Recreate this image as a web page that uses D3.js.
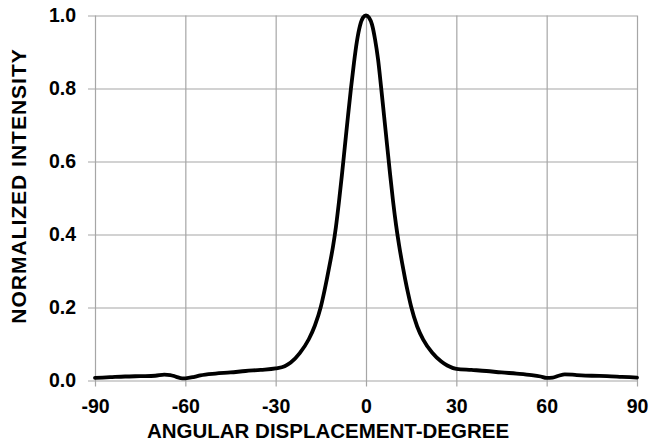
<!DOCTYPE html>
<html>
<head>
<meta charset="utf-8">
<script src="https://cdn.jsdelivr.net/npm/d3@7"></script>
<style>
  html, body { margin: 0; padding: 0; background: #fff; }
  svg { display: block; font-family: "Liberation Sans", Arial, sans-serif; }
</style>
</head>
<body>
<svg id="chart" width="652" height="445"></svg>
<script>
const angles = [-90, -85, -80, -75, -70, -67, -65, -63, -61, -60, -57, -55, -50, -45, -40, -35, -30, -27, -25, -22, -19, -17, -15, -14, -13, -12, -11, -10, -9, -8, -7, -6, -5, -4, -3, -2, -1, 0, 1, 2, 3, 4, 5, 6, 7, 8, 9, 10, 11, 12, 13, 14, 15, 17, 19, 22, 25, 27, 30, 35, 40, 45, 50, 55, 58, 60, 62, 64, 66, 70, 75, 80, 85, 90];
const intensity = [0.007, 0.009, 0.011, 0.012, 0.013, 0.016, 0.015, 0.010, 0.006, 0.006, 0.010, 0.014, 0.019, 0.022, 0.026, 0.029, 0.033, 0.039, 0.049, 0.075, 0.113, 0.150, 0.202, 0.238, 0.278, 0.320, 0.365, 0.420, 0.488, 0.563, 0.643, 0.723, 0.800, 0.870, 0.930, 0.972, 0.994, 1.000, 0.994, 0.975, 0.935, 0.880, 0.805, 0.725, 0.645, 0.565, 0.490, 0.425, 0.370, 0.322, 0.278, 0.238, 0.202, 0.148, 0.112, 0.076, 0.052, 0.041, 0.032, 0.029, 0.026, 0.022, 0.019, 0.015, 0.011, 0.007, 0.008, 0.013, 0.017, 0.015, 0.013, 0.012, 0.010, 0.008];
const xTicks = [-90, -60, -30, 0, 30, 60, 90];
const yTicks = [0, 0.2, 0.4, 0.6, 0.8, 1.0];
const xTitle = "ANGULAR DISPLACEMENT-DEGREE";
const yTitle = "NORMALIZED INTENSITY";

const svg = d3.select("#chart");
const x = d3.scaleLinear().domain([-90, 90]).range([95, 637]);
const y = d3.scaleLinear().domain([0, 1]).range([380.5, 15.5]);
const gridColor = "#a6a6a6";

// Horizontal gridlines (with outward tick)
const yAxis = d3.axisLeft(y).tickValues(yTicks).tickFormat(d3.format(".1f"))
  .tickSize(-(637 - 95));
const gy = svg.append("g").attr("transform", "translate(95,0)").call(yAxis);
gy.select(".domain").remove();
gy.selectAll(".tick line").attr("x1", -7).attr("stroke", gridColor).attr("stroke-width", 1.2);
gy.selectAll(".tick text").attr("x", -19).attr("font-size", 19.5).attr("font-weight", "bold").attr("fill", "#000");

// Vertical gridlines (with outward tick)
const xAxis = d3.axisBottom(x).tickValues(xTicks).tickFormat(d => String(d))
  .tickSize(-(380.5 - 15.5));
const gx = svg.append("g").attr("transform", "translate(0,380.5)").call(xAxis);
gx.select(".domain").remove();
gx.selectAll(".tick line").attr("y1", 6).attr("stroke", gridColor).attr("stroke-width", 1.2);
gx.selectAll(".tick text").attr("y", 19).attr("font-size", 19.5).attr("font-weight", "bold").attr("fill", "#000");

// Data line
const line = d3.line().x((d, i) => x(angles[i])).y(d => y(d)).curve(d3.curveMonotoneX);
svg.append("path").datum(intensity)
  .attr("d", line)
  .attr("fill", "none").attr("stroke", "#000").attr("stroke-width", 3.8)
  .attr("stroke-linejoin", "round").attr("stroke-linecap", "round");

// Axis titles
svg.append("text").attr("x", 328).attr("y", 438).attr("text-anchor", "middle")
  .attr("font-size", 20.5).attr("font-weight", "bold").text(xTitle);
svg.append("text").attr("transform", "translate(26,186) rotate(-90)").attr("text-anchor", "middle")
  .attr("font-size", 21).attr("letter-spacing", 1).attr("font-weight", "bold").text(yTitle);
</script>
</body>
</html>
